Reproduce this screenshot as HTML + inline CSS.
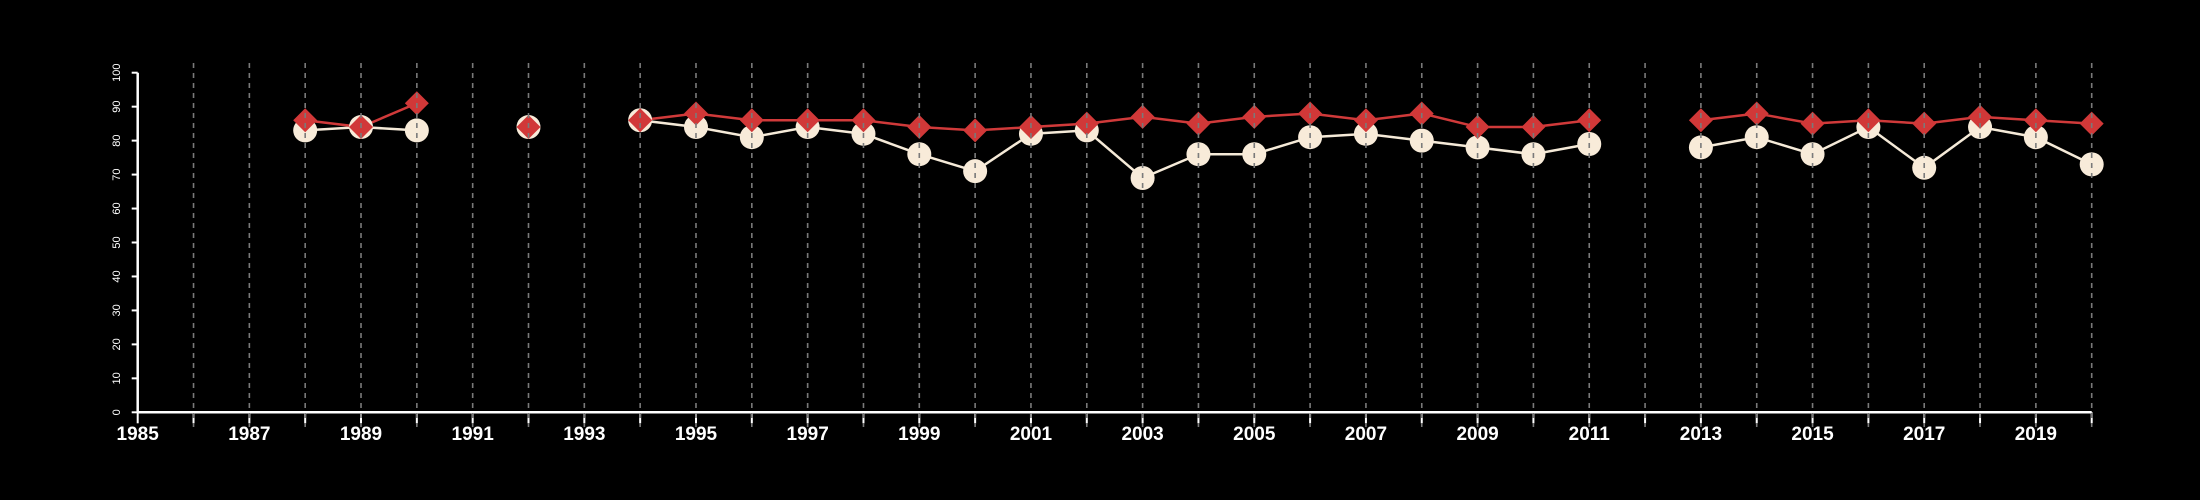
<!DOCTYPE html>
<html><head><meta charset="utf-8"><style>
html,body{margin:0;padding:0;background:#000;}
svg{display:block;}
text{font-family:"Liberation Sans",sans-serif;fill:#fff;}
</style></head><body>
<svg id="chart" width="2200" height="500" viewBox="0 0 2200 500" xmlns="http://www.w3.org/2000/svg"></svg>
<script>
const years = [1988,1989,1990,1992,1994,1995,1996,1997,1998,1999,2000,2001,2002,2003,2004,2005,2006,2007,2008,2009,2010,2011,2013,2014,2015,2016,2017,2018,2019,2020];
const redValues = [86,84,91,84,86,88,86,86,86,84,83,84,85,87,85,87,88,86,88,84,84,86,86,88,85,86,85,87,86,85];
const whiteValues = [83,84,83,84,86,84,81,84,82,76,71,82,83,69,76,76,81,82,80,78,76,79,78,81,76,84,72,84,81,73];
const yTicks = [0,10,20,30,40,50,60,70,80,90,100];
const xMin = 1985, xMax = 2020;

const svg = document.getElementById('chart');
const NS = 'http://www.w3.org/2000/svg';
const X0 = 137.7, X1 = 2091.7, Y0 = 412.3, Y1 = 72.7;
const xs = v => X0 + (v - xMin) / (xMax - xMin) * (X1 - X0);
const ys = v => Y0 - v / 100 * (Y0 - Y1);
function mk(tag, attrs, parent) {
  const e = document.createElementNS(NS, tag);
  for (const k in attrs) e.setAttribute(k, attrs[k]);
  (parent || svg).appendChild(e);
  return e;
}
const axes = mk('g', {});


mk('line', {x1:X0, y1:Y0, x2:X1, y2:Y0, stroke:'#fff', 'stroke-width':2.5}, axes);
mk('line', {x1:X0, y1:Y0, x2:X0, y2:Y1, stroke:'#fff', 'stroke-width':2.5}, axes);
yTicks.forEach(t => {
  mk('line', {x1:X0-6, y1:ys(t), x2:X0, y2:ys(t), stroke:'#fff', 'stroke-width':2}, axes);
  const tx = mk('text', {x:0, y:0, 'font-size':11, 'text-anchor':'middle', transform:`translate(120,${ys(t)}) rotate(-90)`}, axes);
  tx.textContent = t;
  
  
});
for (let y = xMin; y <= xMax; y++) {
  mk('line', {x1:xs(y), y1:Y0, x2:xs(y), y2:Y0+11, stroke:'#fff', 'stroke-width':2}, axes);
  if ((y - xMin) % 2 === 0 && y < xMax) {
    const tx = mk('text', {x:xs(y), y:440, 'font-size':19, 'font-weight':'bold', 'text-anchor':'middle'}, axes);
    tx.textContent = y;
    
    
  }
}
function drawLine(vals, color, name) {
  let seg = [];
  const segs = [];
  years.forEach((yr, i) => {
    if (i > 0 && yr - years[i-1] > 1) { segs.push(seg); seg = []; }
    seg.push([xs(yr), ys(vals[i])]);
  });
  segs.push(seg);
  segs.forEach(s => {
    if (s.length < 2) return;
    const p = mk('polyline', {points: s.map(q => q.join(',')).join(' '), fill:'none', stroke:color, 'stroke-width':2.5});
    
    
  });
}
drawLine(whiteValues, '#f5ead8', 'white-series-line');
drawLine(redValues, '#d03a3a', 'red-series-line');
years.forEach((yr, i) => {
  const c = mk('circle', {cx:xs(yr), cy:ys(whiteValues[i]), r:12, fill:'#f8ebd9'});
  
  
});
years.forEach((yr, i) => {
  const cx = xs(yr), cy = ys(redValues[i]), h = 12;
  const d = mk('polygon', {points:`${cx},${cy-h} ${cx+h},${cy} ${cx},${cy+h} ${cx-h},${cy}`, fill:'#d13838'});
  
  
});
for (let y = xMin + 1; y <= xMax; y++) {
  const g = mk('line', {x1:xs(y), y1:63, x2:xs(y), y2:427, stroke:'#7a7a7a', 'stroke-width':1.6, 'stroke-dasharray':'5,5'});
  
  
}
</script>
</body></html>
